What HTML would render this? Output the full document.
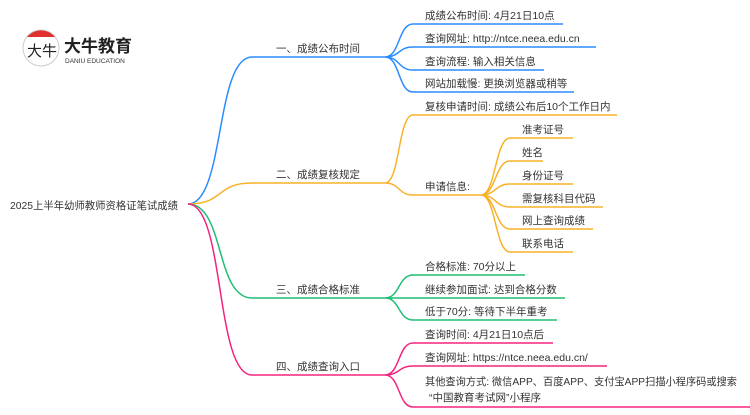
<!DOCTYPE html>
<html><head><meta charset="utf-8"><style>
body{margin:0;background:#fff;width:750px;height:410px;overflow:hidden}
svg text{font-family:"Liberation Sans","Noto Sans CJK SC",sans-serif;font-size:10.5px;fill:#333}
</style></head><body>
<svg width="750" height="410" viewBox="0 0 750 410" xmlns="http://www.w3.org/2000/svg" fill="none" stroke-width="1.5">
<!-- logo -->
<circle cx="41" cy="48" r="18" fill="#fff" stroke="#ccc" stroke-width="1"/>
<path d="M27,37 A18,18 0 0 1 55,37 Z" fill="#e03030" stroke="none"/>
<text x="27" y="56" style="font-size:15px;fill:#222">大牛</text>
<text x="64" y="52" style="font-size:17px;font-weight:bold;fill:#222">大牛教育</text>
<text x="65" y="63" style="font-size:6.5px;fill:#333">DANIU EDUCATION</text>
<!-- root -->
<text x="10" y="209" textLength="168" lengthAdjust="spacingAndGlyphs">2025上半年幼师教师资格证笔试成绩</text>
<!-- main branches -->
<g stroke="#2b8cff"><path d="M188,204 C225,204 215,57 252,57 L385,57"/>
<path d="M385,57 C400,57 398,24 413,24 L563,24 M385,57 C400,57 398,47 413,47 L596,47 M385,57 C400,57 398,70 413,70 L544,70 M385,57 C400,57 398,92 413,92 L574,92"/></g>
<g stroke="#f8b22a"><path d="M188,204 C225,204 215,183 252,183 L385,183"/>
<path d="M385,183 C400,183 398,115 413,115 L617,115 M385,183 C400,183 398,195 413,195 L481,195"/>
<path d="M481,195 C496,195 495,138 510,138 L573,138 M481,195 C496,195 495,161 510,161 L543,161 M481,195 C496,195 495,184 510,184 L573,184 M481,195 C496,195 495,207 510,207 L603,207 M481,195 C496,195 495,229 510,229 L593,229 M481,195 C496,195 495,252 510,252 L573,252"/></g>
<g stroke="#1fbe74"><path d="M188,204 C225,204 215,298 252,298 L385,298"/>
<path d="M385,298 C400,298 398,275 413,275 L525,275 M385,298 L565,298 M385,298 C400,298 398,320 413,320 L557,320"/></g>
<g stroke="#f5237e"><path d="M188,204 C225,204 215,375 252,375 L385,375"/>
<path d="M385,375 C400,375 398,343 413,343 L553,343 M385,375 C400,375 398,366 413,366 L607,366 M385,375 C400,375 398,407 413,407 L750,407"/></g>
<!-- labels -->
<text x="276" y="52">一、成绩公布时间</text>
<text x="276" y="178">二、成绩复核规定</text>
<text x="276" y="293">三、成绩合格标准</text>
<text x="276" y="370">四、成绩查询入口</text>
<text x="425" y="19">成绩公布时间: 4月21日10点</text>
<text x="425" y="42">查询网址: http://ntce.neea.edu.cn</text>
<text x="425" y="65">查询流程: 输入相关信息</text>
<text x="425" y="87">网站加载慢: 更换浏览器或稍等</text>
<text x="425" y="110">复核申请时间: 成绩公布后10个工作日内</text>
<text x="425" y="190">申请信息:</text>
<text x="522" y="133">准考证号</text>
<text x="522" y="156">姓名</text>
<text x="522" y="179">身份证号</text>
<text x="522" y="202">需复核科目代码</text>
<text x="522" y="224">网上查询成绩</text>
<text x="522" y="247">联系电话</text>
<text x="425" y="270">合格标准: 70分以上</text>
<text x="425" y="293">继续参加面试: 达到合格分数</text>
<text x="425" y="315">低于70分: 等待下半年重考</text>
<text x="425" y="338">查询时间: 4月21日10点后</text>
<text x="425" y="361">查询网址: https://ntce.neea.edu.cn/</text>
<text x="425" y="385" textLength="312" lengthAdjust="spacingAndGlyphs">其他查询方式: 微信APP、百度APP、支付宝APP扫描小程序码或搜索</text>
<text x="429" y="401">“中国教育考试网”小程序</text>
</svg>
</body></html>
